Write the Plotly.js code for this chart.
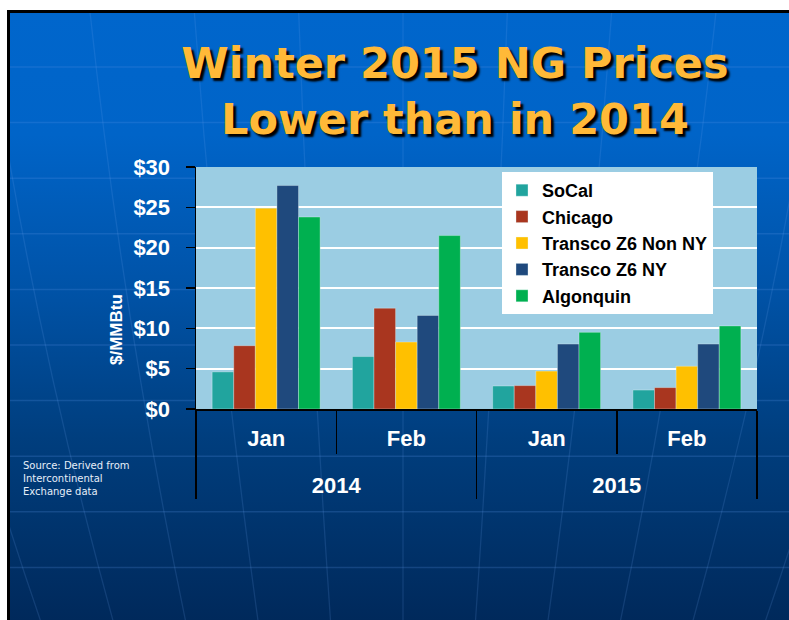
<!DOCTYPE html>
<html><head><meta charset="utf-8">
<script src="https://cdn.plot.ly/plotly-3.0.1.min.js"></script>
<style>
html,body{margin:0;padding:0;background:#fff;width:789px;height:620px;overflow:hidden}
#slide{position:absolute;left:7px;top:10px;width:782px;height:610px;box-sizing:border-box;border-left:3px solid #000;border-top:3px solid #000;background:linear-gradient(to bottom,#0066CC 0%,#0064C8 20%,#0053A8 45%,#003E7E 70%,#00295B 100%);overflow:hidden}
#deco{position:absolute;left:0;top:0}
#chart{position:absolute;left:0;top:0;width:789px;height:620px}
</style></head><body>
<div id="slide"><svg id="deco" width="782" height="610"></svg></div>
<div id="chart"></div>
<script>
// ---- data ----
const years = ['2014', '2014', '2015', '2015'];
const months = ['Jan', 'Feb', 'Jan', 'Feb'];
const seriesNames = ['SoCal', 'Chicago', 'Transco Z6 Non NY', 'Transco Z6 NY', 'Algonquin'];
const socal = [4.6, 6.5, 2.85, 2.35];
const chicago = [7.85, 12.5, 2.9, 2.65];
const transcoNonNY = [24.9, 8.3, 4.7, 5.3];
const transcoNY = [27.7, 11.6, 8.05, 8.05];
const algonquin = [23.8, 21.5, 9.5, 10.3];
const seriesColors = ['#21A49E', '#A9361F', '#FFC000', '#1F497D', '#00B050'];
const yTickVals = [0, 5, 10, 15, 20, 25, 30];
const yTickText = ['$0', '$5', '$10', '$15', '$20', '$25', '$30'];
const yTitle = '$/MMBtu';
const sourceNote = 'Source: Derived from<br>Intercontinental<br>Exchange data';

// ---- decorative globe lines behind the chart ----
(function () {
  const svg = document.getElementById('deco');
  let s = '';
  for (let y = 54; y < 610; y += 55.6) {
    s += '<line x1="0" x2="782" y1="' + y.toFixed(1) + '" y2="' + y.toFixed(1) + '" stroke="rgba(90,150,230,0.22)" stroke-width="1.5"/>';
  }
  for (let i = -9; i <= 9; i++) {
    const x0 = 393 + i * 105;
    const cx = 393 + i * 80;
    s += '<path d="M' + x0 + ',-20 Q' + cx + ',700 393,1400" fill="none" stroke="rgba(110,170,240,0.16)" stroke-width="1.3"/>';
  }
  svg.innerHTML = s;
})();

// month labels get an empty second line so the year row sits lower, as in the slide
const monthLabels = months.map(m => m + '<br>\u00a0');
const seriesValues = [socal, chicago, transcoNonNY, transcoNY, algonquin];
const traces = seriesValues.map((vals, i) => ({
  type: 'bar',
  name: seriesNames[i],
  x: [years, monthLabels],
  y: vals,
  marker: { color: seriesColors[i], line: { color: 'rgba(230,245,250,0.35)', width: 1 } },
  hoverinfo: 'name+y'
}));

const W = 789, H = 620, L = 196, R = 32, T = 167, B = 211;
const pw = W - L - R, ph = H - T - B;

const layout = {
  width: W, height: H,
  paper_bgcolor: 'rgba(0,0,0,0)',
  plot_bgcolor: '#9BCDE3',
  margin: { l: L, r: R, t: T, b: B, pad: 0 },
  barmode: 'group',
  bargap: 0.23,
  bargroupgap: 0,
  showlegend: true,
  title: {
    text: 'Winter 2015 NG Prices<br>Lower than in 2014',
    x: 455 / W, xref: 'container', xanchor: 'center',
    y: 1 - 78 / H, yref: 'container', yanchor: 'top',
    font: { family: 'DejaVu Sans', size: 43, weight: 'bold', color: '#FFB938', shadow: '3px 3px 2px #000' }
  },
  font: { family: 'Liberation Sans, Arial, sans-serif', color: '#fff' },
  xaxis: {
    type: 'multicategory',
    showgrid: false,
    showline: true, linecolor: '#000', linewidth: 2,
    ticks: 'outside', tickson: 'boundaries', ticklen: 43, tickwidth: 1.5, tickcolor: '#000',
    ticklabelstandoff: 9,
    showdividers: true, dividercolor: '#000', dividerwidth: 1.5,
    tickfont: { family: 'Liberation Sans, Arial, sans-serif', size: 22, weight: 'bold', color: '#fff' },
    fixedrange: true
  },
  yaxis: {
    range: [0, 30],
    tickmode: 'array',
    tickvals: yTickVals,
    ticktext: yTickText,
    showgrid: true, gridcolor: '#fff', gridwidth: 2,
    zeroline: false,
    showline: true, linecolor: '#000', linewidth: 1.5,
    ticks: 'outside', ticklen: 9, tickwidth: 1.5, tickcolor: '#000',
    ticklabelstandoff: 11,
    tickfont: { family: 'Liberation Sans, Arial, sans-serif', size: 22, weight: 'bold', color: '#fff' },
    fixedrange: true
  },
  legend: {
    x: (502 - L) / pw, xanchor: 'left',
    y: 1 - (172 - T) / ph, yanchor: 'top',
    bgcolor: '#fff', borderwidth: 0,
    font: { family: 'Liberation Sans, Arial, sans-serif', size: 18, weight: 'bold', color: '#000' },
    itemclick: false, itemdoubleclick: false
  },
  annotations: [{
    text: yTitle,
    xref: 'paper', yref: 'paper',
    x: (116 - L) / pw, xanchor: 'center',
    y: 1 - (330 - T) / ph, yanchor: 'middle',
    textangle: -90, showarrow: false,
    font: { family: 'Liberation Sans, Arial, sans-serif', size: 17, weight: 'bold', color: '#fff' }
  }, {
    text: sourceNote,
    xref: 'paper', yref: 'paper',
    x: (21 - L) / pw, xanchor: 'left',
    y: 1 - (458 - T) / ph, yanchor: 'top',
    align: 'left', showarrow: false,
    font: { family: 'DejaVu Sans', size: 10, color: '#E6EEF8' }
  }]
};

Plotly.newPlot('chart', traces, layout, { displayModeBar: false, staticPlot: true });
</script>
</body></html>
